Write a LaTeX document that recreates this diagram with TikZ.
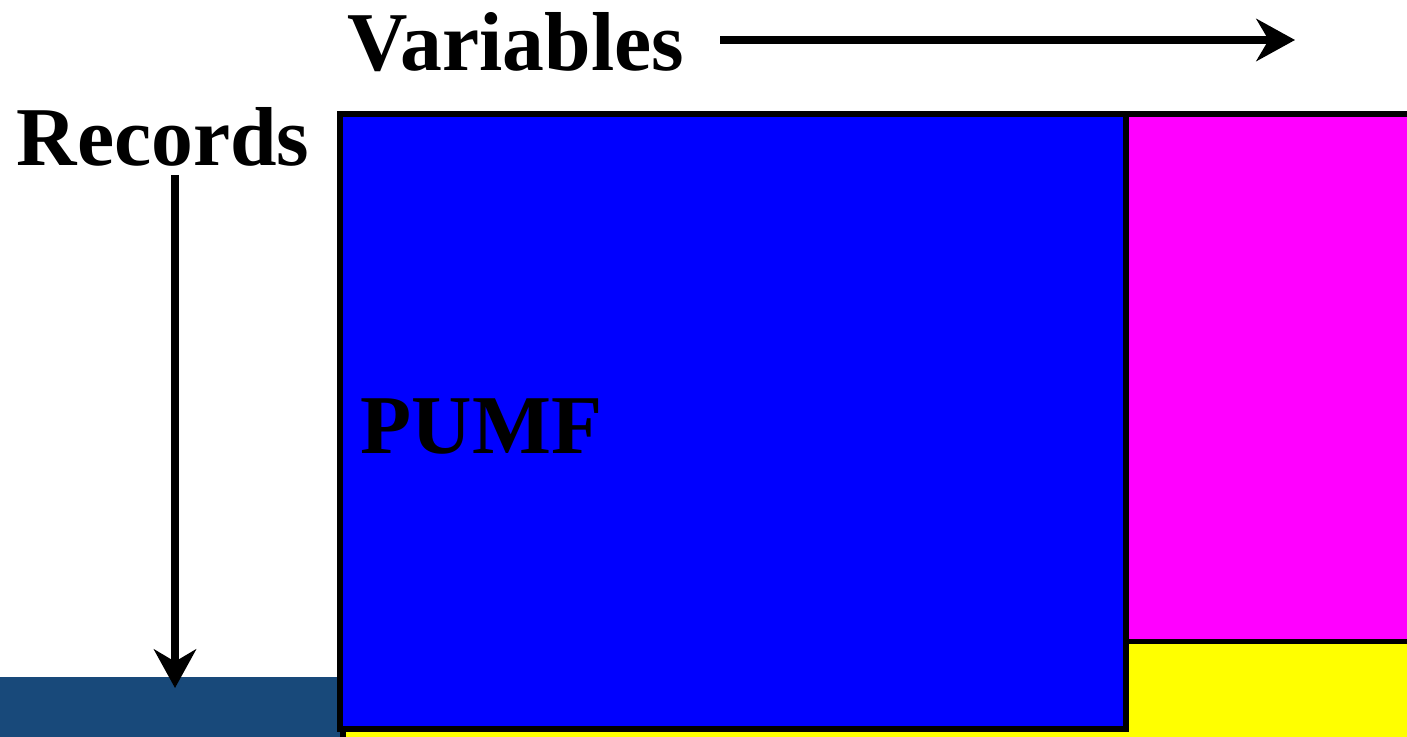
\documentclass[tikz,border=0pt]{standalone}
\usepackage{fontspec}
\setmainfont{Liberation Serif}
\usepackage{tikz}
\usepackage{xcolor}
\usetikzlibrary{arrows.meta,positioning,calc}
\definecolor{BandColor}{RGB}{24,73,122}
\definecolor{BlockBlue}{RGB}{0,0,255}
\definecolor{BlockMagenta}{RGB}{255,0,255}
\definecolor{BlockYellow}{RGB}{255,255,0}
\tikzset{
  biglabel/.style={font=\fontsize{23.8}{28}\selectfont\bfseries, inner sep=0pt, anchor=base west},
  axisarrow/.style={-{Stealth[length=11pt, width=12pt, inset=3.5pt]}, line width=2pt},
  block/.style={draw=black, line width=1.6pt},
}

\begin{document}
\begin{tikzpicture}[>=Latex]
      \useasboundingbox (0,0) rectangle (14.07,7.36);
      \clip (0,0) rectangle (14.07,7.36);

      \fill[BandColor] (0,-0.5) rectangle (3.40,0.59);

      \draw[block, fill=BlockYellow] (3.43,-1.0) rectangle (14.6,0.945);
      \draw[block, fill=BlockMagenta] (11.26,0.945) rectangle (14.6,6.22);
      \draw[block, fill=BlockBlue] (3.40,0.07) rectangle (11.26,6.22);

      \node[biglabel] (vars) at (3.47,6.65) {Variables};
      \node[biglabel] (recs) at (0.16,5.70) {Records};
      \node[biglabel] (pumf) at (3.60,2.83) {PUMF};

      \coordinate (varsA) at (7.20,6.96);
      \coordinate (varsB) at (12.95,6.96);
      \coordinate (recsA) at (1.75,5.61);
      \coordinate (recsB) at (1.75,0.48);

      \draw[axisarrow] (varsA)--(varsB);
      \draw[axisarrow] (recsA)--(recsB);
    \end{tikzpicture}
\end{document}
